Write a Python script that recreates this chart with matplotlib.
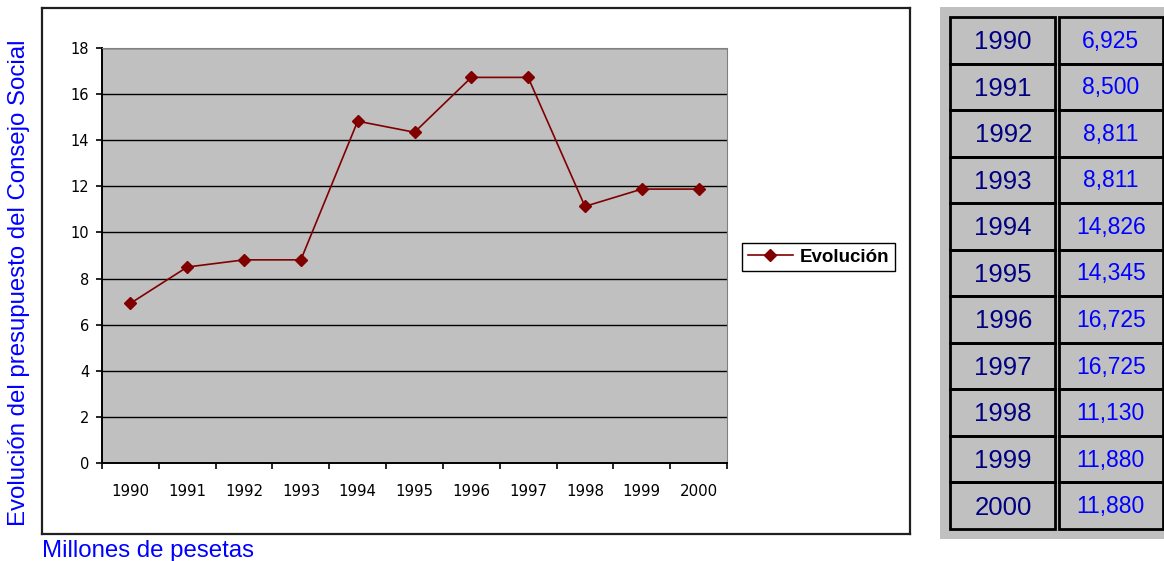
import matplotlib.pyplot as plt
from matplotlib.patches import Rectangle

years = ['1990', '1991', '1992', '1993', '1994', '1995', '1996', '1997', '1998', '1999', '2000']
budget = [6.925, 8.500, 8.811, 8.811, 14.826, 14.345, 16.725, 16.725, 11.130, 11.880, 11.880]
series_name = 'Evolución'
y_label = 'Evolución del presupuesto del Consejo Social'
units_label = 'Millones de pesetas'

W, H = 1164, 561


def fig_box(x0, y0, x1, y1):
    # pixel box (top-left origin) -> figure fraction [left, bottom, width, height]
    return [x0 / W, 1 - y1 / H, (x1 - x0) / W, (y1 - y0) / H]


plt.rcParams['font.family'] = ['Liberation Sans', 'DejaVu Sans']
fig = plt.figure(figsize=(W / 100, H / 100), dpi=100)

# chart frame
frame = fig.add_axes(fig_box(42, 8, 910, 534))
frame.set_xticks([])
frame.set_yticks([])
frame.patch.set_alpha(0)
for s in frame.spines.values():
    s.set_linewidth(1.6)
    s.set_color('#202020')

ax = fig.add_axes(fig_box(102, 48, 727, 463))
ax.set_facecolor('#C0C0C0')
x = range(len(years))
line, = ax.plot(x, budget, color='#800000', lw=1.2, marker='D', markersize=6,
                label=series_name, zorder=3)
ax.set_xlim(-0.5, len(years) - 0.5)
ax.set_ylim(0, 18)
ax.set_yticks(range(0, 19, 2))
ax.grid(axis='y', color='black', lw=1.0)
ax.set_axisbelow(True)
ax.set_xticks([i - 0.5 for i in range(len(years) + 1)])
ax.set_xticklabels([])
ax.set_xticks(list(x), minor=True)
ax.set_xticklabels(years, minor=True, fontsize=10.8, family='DejaVu Sans')
ax.tick_params(axis='x', which='major', direction='out', length=4.5, width=1.2)
ax.tick_params(axis='x', which='minor', length=0, pad=15)
ax.tick_params(axis='y', direction='out', length=4.3, width=1.2, pad=5,
               labelsize=10.5)
for lab in ax.get_yticklabels():
    lab.set_family('DejaVu Sans')
ax.spines['left'].set_linewidth(1.4)
ax.spines['bottom'].set_linewidth(1.4)
ax.spines['top'].set_color('#808080')
ax.spines['right'].set_color('#808080')

leg = fig.legend(handles=[line], loc='center',
                 bbox_to_anchor=(818.5 / W, 1 - 257 / H),
                 fancybox=False, edgecolor='black', framealpha=1,
                 handlelength=2.4, handletextpad=0.35, borderpad=0.3,
                 prop={'weight': 'bold', 'size': 13.5})
leg.get_frame().set_linewidth(1.0)

fig.text(19 / W, 1 - 283 / H, y_label, rotation=90, ha='center', va='center',
         color='#0000FF', fontsize=17.3)
fig.text(42 / W, 4 / H, units_label, ha='left', va='baseline',
         color='#0000FF', fontsize=17.3)

# data table on the right
panel = fig.add_axes(fig_box(940, 7, 1164, 539))
panel.set_facecolor('#C0C0C0')
panel.set_xticks([])
panel.set_yticks([])
for s in panel.spines.values():
    s.set_visible(False)

tab = fig.add_axes(fig_box(950, 17, 1163, 529))
tab.set_xlim(0, 2)
tab.set_ylim(len(years), 0)
tab.axis('off')
tab.patch.set_alpha(0)
for i, (yr, v) in enumerate(zip(years, budget)):
    tab.add_patch(Rectangle((0, i), 0.99, 1, fill=False, lw=2, ec='black', clip_on=False))
    tab.add_patch(Rectangle((1.02, i), 0.98, 1, fill=False, lw=2, ec='black', clip_on=False))
    tab.text(0.5, i + 0.69, yr, ha='center', va='baseline', color='#000080', fontsize=18.5)
    tab.text(1.51, i + 0.66, f'{v:.3f}'.replace('.', ','), ha='center', va='baseline',
             color='#0000FF', fontsize=16.5)

fig.savefig('out.png', dpi=100)
